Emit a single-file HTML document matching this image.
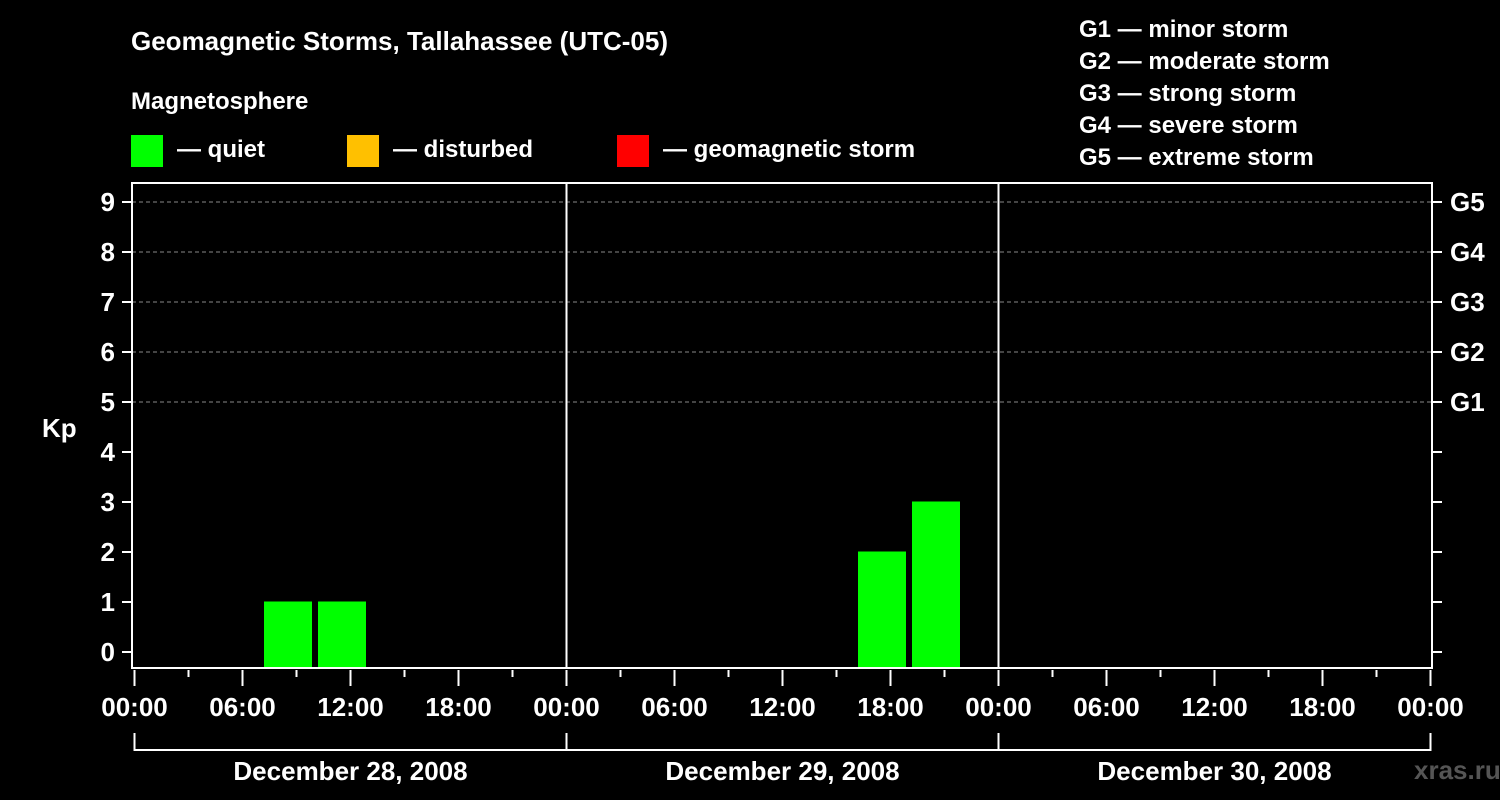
<!DOCTYPE html>
<html><head><meta charset="utf-8"><style>
html,body{margin:0;padding:0;background:#000;width:1500px;height:800px;overflow:hidden}
svg{display:block;font-family:"Liberation Sans",Arial,sans-serif;font-weight:bold}
</style></head><body>
<svg id="chart" width="1500" height="800" xmlns="http://www.w3.org/2000/svg">
<text x="131" y="50" fill="#fff" font-size="26">Geomagnetic Storms, Tallahassee (UTC-05)</text>
<text x="131" y="109" fill="#fff" font-size="24">Magnetosphere</text>
<g><rect x="131" y="135" width="32" height="32" fill="#00ff00"/><text x="177" y="157" fill="#fff" font-size="24">— quiet</text></g>
<g><rect x="347" y="135" width="32" height="32" fill="#ffc000"/><text x="393" y="157" fill="#fff" font-size="24">— disturbed</text></g>
<g><rect x="617" y="135" width="32" height="32" fill="#ff0000"/><text x="663" y="157" fill="#fff" font-size="24">— geomagnetic storm</text></g>
<g fill="#fff" font-size="24">
<text x="1079" y="37">G1 — minor storm</text>
<text x="1079" y="69">G2 — moderate storm</text>
<text x="1079" y="101">G3 — strong storm</text>
<text x="1079" y="133">G4 — severe storm</text>
<text x="1079" y="165">G5 — extreme storm</text>
</g>
<text x="42" y="437" fill="#fff" font-size="26">Kp</text>
<text x="1414" y="779" fill="#555" font-size="26">xras.ru</text>
<g id="grid"></g><g id="bars"></g><g id="axes"></g>
</svg>
<script>
const days = ["December 28, 2008","December 29, 2008","December 30, 2008"];
const barStartHours = [7, 10, 40, 43];
const barKp = [1, 1, 2, 3];
const yTicks = [0,1,2,3,4,5,6,7,8,9];
const gLabels = ["G1","G2","G3","G4","G5"];
const gKp = [5,6,7,8,9];
const hourLabels = ["00:00","06:00","12:00","18:00"];

const NS="http://www.w3.org/2000/svg";
const X0=134.5, PXH=18, PL=132, PR=1432, PT=183, PB=668;
const x = h => X0 + h*PXH;
const y = k => 652 - k*50;
function mk(parent, tag, attrs, text){
  const e=document.createElementNS(NS,tag);
  for(const k in attrs) e.setAttribute(k,attrs[k]);
  if(text!==undefined) e.textContent=text;
  document.getElementById(parent).appendChild(e); return e;
}
// gridlines
gKp.forEach((k,i)=>{
  const l=mk('grid','line',{x1:PL,x2:PR,y1:y(k),y2:y(k),stroke:'#888','stroke-width':1,'stroke-dasharray':'4,3'});
  
  
  const t=mk('axes','text',{x:1450,y:y(k)+9,fill:'#fff','font-size':26},gLabels[i]);
  
  
});
// bars
barStartHours.forEach((h,i)=>{
  const k=barKp[i];
  const c = k>=5?'#ff0000':(k>=4?'#ffc000':'#00ff00');
  const r=mk('bars','rect',{x:x(h)+3.5,y:y(k)-50*0+0,width:48,height:PB-y(k),fill:c});
  r.setAttribute('y',y(k)-0.5);
  r.setAttribute('height',PB-y(k)+0.5);
  
  
});
// frame
const f=mk('axes','rect',{x:PL,y:PT,width:PR-PL,height:PB-PT,fill:'none',stroke:'#fff','stroke-width':2});


for(let d=1;d<days.length;d++){
  const l=mk('axes','line',{x1:x(d*24),x2:x(d*24),y1:PT,y2:PB,stroke:'#fff','stroke-width':2});
  
  
}
// y ticks
yTicks.forEach(k=>{
  mk('axes','line',{x1:122,x2:PL,y1:y(k),y2:y(k),stroke:'#fff','stroke-width':2});
  mk('axes','line',{x1:PR,x2:1442,y1:y(k),y2:y(k),stroke:'#fff','stroke-width':2});
  const t=mk('axes','text',{x:115,y:y(k)+9,fill:'#fff','font-size':26,'text-anchor':'end'},String(k));
  
  
});
// x ticks
for(let h=0;h<=days.length*24;h+=3){
  const major=h%6===0;
  mk('axes','line',{x1:x(h),x2:x(h),y1:670,y2:major?686:677,stroke:'#fff','stroke-width':2});
  if(major){
    const t=mk('axes','text',{x:x(h),y:716,fill:'#fff','font-size':26,'text-anchor':'middle'},hourLabels[(h/6)%4]);
    
    
  }
}
// day brackets
days.forEach((d,i)=>{
  const a=x(i*24), b=x((i+1)*24);
  mk('axes','path',{d:`M${a} 733 V750 H${b} V733`,fill:'none',stroke:'#fff','stroke-width':2});
  const t=mk('axes','text',{x:(a+b)/2,y:780,fill:'#fff','font-size':26,'text-anchor':'middle'},d);
  
  
});
</script>
</body></html>
